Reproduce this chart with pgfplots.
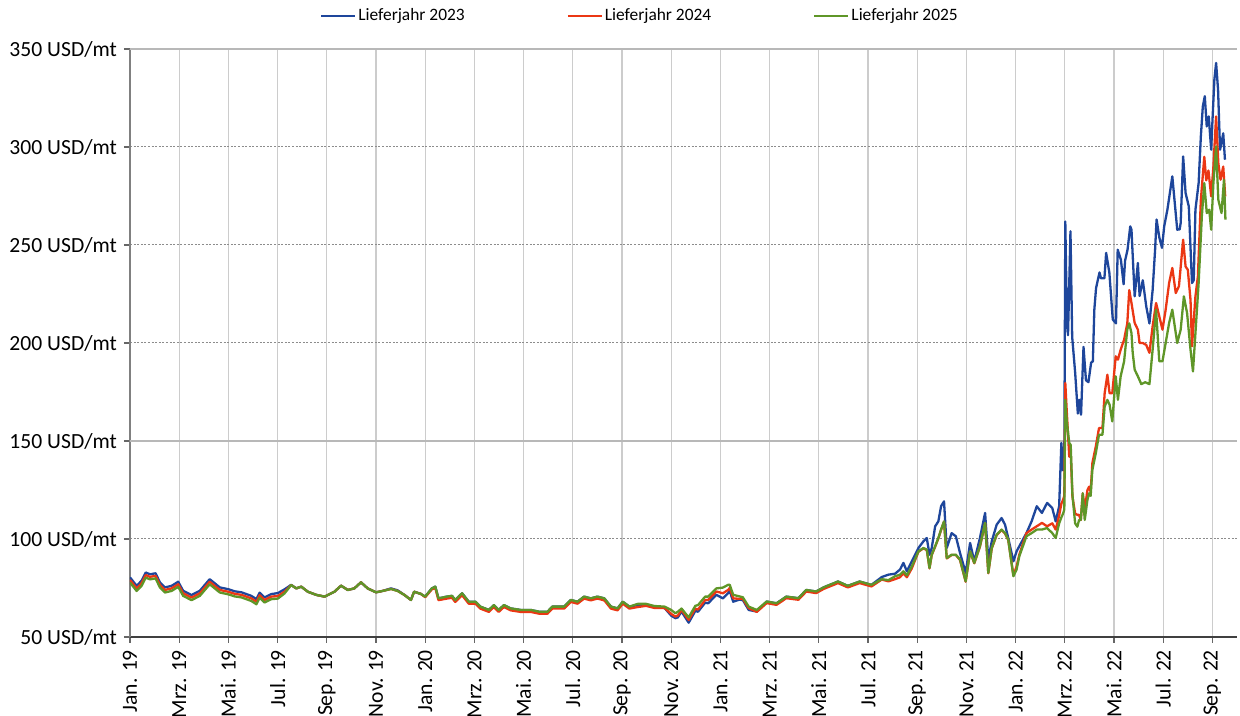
\documentclass[border=0pt]{standalone}
\usepackage{pgfplots}
\pgfplotsset{compat=1.18}
\usepackage{fontspec}
\setmainfont{Carlito}
\definecolor{cblue}{RGB}{30,70,155}
\definecolor{cred}{RGB}{235,55,20}
\definecolor{cgreen}{RGB}{95,150,40}
\begin{document}
\begin{tikzpicture}
\begin{axis}[
  scale only axis, width=553.5pt, height=294pt,
  xmin=0, xmax=45, ymin=50, ymax=350,
  axis lines=left, axis line style={-},
  x axis line style={black!75, line width=0.8pt},
  y axis line style={black!50, line width=1pt},
  xtick={0,2,...,44},
  xticklabels={Jan. 19,Mrz. 19,Mai. 19,Jul. 19,Sep. 19,Nov. 19,Jan. 20,Mrz. 20,Mai. 20,Jul. 20,Sep. 20,Nov. 20,Jan. 21,Mrz. 21,Mai. 21,Jul. 21,Sep. 21,Nov. 21,Jan. 22,Mrz. 22,Mai. 22,Jul. 22,Sep. 22},
  x tick label style={rotate=90, anchor=east, font=\fontsize{10.8}{12}\selectfont},
  ytick={50,100,...,350},
  yticklabels={50 USD/mt,100 USD/mt,150 USD/mt,200 USD/mt,250 USD/mt,300 USD/mt,350 USD/mt},
  y tick label style={font=\fontsize{10.8}{12}\selectfont},
  tick align=outside, major tick length=3pt,
  tick style={black!60, line width=0.6pt},
  xmajorgrids, ymajorgrids,
  x grid style={black!20, line width=0.6pt},
  y grid style={black!45, line width=0.5pt, dash pattern=on 1pt off 0.8pt},
  extra y ticks={150,350}, extra y tick labels={},
  extra y tick style={y grid style={black!28, solid, line width=0.6pt}, major tick length=0pt},
  legend columns=3,
  legend style={draw=none, fill=none, at={(0.4607,1)}, anchor=center, yshift=16.5pt,
    font=\fontsize{8.7}{10}\selectfont,
    /tikz/every even column/.append style={column sep=50pt},
    nodes={inner sep=1pt}},
  legend image code/.code={\draw[#1, line width=1.1pt] (0pt,0pt) -- (17pt,0pt);},
  every axis plot/.append style={line width=1.15pt, line join=round},
]
\addplot[cblue] coordinates {(0,80.4)(0.27,76.1)(0.47,78.7)(0.64,82.9)(0.81,82.0)(1.04,82.5)(1.22,77.8)(1.42,75.3)(1.69,76.1)(1.96,78.2)(2.16,73.6)(2.5,71.4)(2.84,73.6)(3.24,79.5)(3.65,75.3)(3.99,74.4)(4.26,73.3)(4.53,72.8)(4.93,71.0)(5.14,69.3)(5.27,72.6)(5.47,70.2)(5.74,71.9)(6.01,72.4)(6.28,74.3)(6.55,76.6)(6.76,74.8)(6.96,75.7)(7.23,73.1)(7.57,71.5)(7.91,70.6)(8.31,73.1)(8.58,76.2)(8.85,74.0)(9.12,74.8)(9.39,77.9)(9.66,74.8)(10.0,72.8)(10.27,73.5)(10.61,74.8)(10.88,73.8)(11.15,71.5)(11.42,68.9)(11.55,73.1)(11.82,72.0)(12.0,70.6)(12.27,74.8)(12.41,75.7)(12.54,69.7)(12.88,70.6)(13.09,71.0)(13.22,68.9)(13.5,72.3)(13.77,68.0)(14.04,68.0)(14.24,65.5)(14.59,63.8)(14.79,66.3)(14.99,63.8)(15.2,66.3)(15.47,64.6)(15.88,63.8)(16.29,63.8)(16.63,62.9)(16.97,62.9)(17.17,65.5)(17.65,65.5)(17.92,68.9)(18.19,68.0)(18.46,70.6)(18.73,69.7)(19.0,70.6)(19.28,69.7)(19.55,65.5)(19.82,64.6)(20.03,68.0)(20.3,65.5)(20.64,66.3)(20.98,66.3)(21.32,65.3)(21.73,64.8)(22.0,60.9)(22.17,59.6)(22.27,60.0)(22.42,63.0)(22.71,57.3)(22.98,63.3)(23.09,62.9)(23.38,67.5)(23.5,67.2)(23.84,71.5)(24.1,69.7)(24.31,72.3)(24.38,73.5)(24.52,68.0)(24.75,69.0)(24.91,68.9)(25.15,63.8)(25.48,63.0)(25.88,68.1)(26.28,67.2)(26.68,70.6)(27.17,69.8)(27.49,74.0)(27.89,73.2)(28.21,75.4)(28.78,78.3)(29.18,76.1)(29.66,78.3)(30.14,76.6)(30.56,80.6)(30.83,81.8)(31.1,82.3)(31.3,84.4)(31.44,87.8)(31.58,83.5)(31.78,88.6)(32.05,95.4)(32.25,98.8)(32.39,100.5)(32.5,92.0)(32.59,95.4)(32.73,106.5)(32.86,109.0)(32.97,116.7)(33.09,119.2)(33.2,95.4)(33.4,103.0)(33.57,101.4)(33.74,92.9)(33.97,82.7)(34.15,98.0)(34.32,88.6)(34.55,100.5)(34.76,113.3)(34.89,89.5)(35.03,98.8)(35.23,107.3)(35.43,110.7)(35.57,107.3)(35.7,100.5)(35.91,88.6)(36.04,93.7)(36.15,96.3)(36.44,103.0)(36.65,109.0)(36.86,116.7)(37.07,113.3)(37.28,118.4)(37.49,115.8)(37.63,109.0)(37.77,116.7)(37.86,149.0)(37.93,135.0)(37.98,140.0)(38.02,262.0)(38.08,215.0)(38.13,204.0)(38.18,230.0)(38.23,257.0)(38.3,203.0)(38.42,185.0)(38.53,164.0)(38.59,171.0)(38.66,163.4)(38.76,198.0)(38.86,181.0)(38.96,180.0)(39.07,190.0)(39.14,190.6)(39.2,217.0)(39.27,228.0)(39.41,236.0)(39.47,233.0)(39.61,233.0)(39.68,246.0)(39.81,236.0)(39.95,212.0)(40.08,210.0)(40.15,247.6)(40.28,242.5)(40.39,230.0)(40.45,242.0)(40.55,247.6)(40.66,259.5)(40.71,257.8)(40.84,223.8)(40.97,240.8)(41.04,224.0)(41.17,232.0)(41.31,218.7)(41.44,210.0)(41.57,227.0)(41.67,247.6)(41.73,263.0)(41.84,254.0)(41.95,248.5)(42.04,259.5)(42.17,268.0)(42.37,285.0)(42.57,257.8)(42.67,258.0)(42.71,261.2)(42.81,295.2)(42.91,276.5)(43.04,269.7)(43.17,230.6)(43.24,232.0)(43.31,268.0)(43.44,281.6)(43.53,305.4)(43.61,320.7)(43.69,325.9)(43.77,310.5)(43.85,315.6)(43.95,298.6)(44.01,315.6)(44.08,334.4)(44.15,342.9)(44.23,329.2)(44.31,298.6)(44.37,302.0)(44.44,307.0)(44.51,293.5)};
\addlegendentry{Lieferjahr 2023}
\addplot[cred] coordinates {(0,79.1)(0.27,74.8)(0.47,77.4)(0.64,81.6)(0.81,80.7)(1.04,81.2)(1.22,76.5)(1.42,74.0)(1.69,74.8)(1.96,76.9)(2.16,72.3)(2.5,70.1)(2.84,72.3)(3.24,78.2)(3.65,74.0)(3.99,73.1)(4.26,72.0)(4.53,71.5)(4.93,69.7)(5.14,68.0)(5.27,71.3)(5.47,68.9)(5.74,70.6)(6.01,70.9)(6.28,73.1)(6.55,76.5)(6.76,74.8)(6.96,75.7)(7.23,73.1)(7.57,71.5)(7.91,70.6)(8.31,73.1)(8.58,76.2)(8.85,74.0)(9.12,74.8)(9.39,77.9)(9.66,74.8)(10.0,72.8)(10.27,73.5)(10.61,74.5)(10.88,73.5)(11.15,71.5)(11.42,68.9)(11.55,73.1)(11.82,72.0)(12.0,70.3)(12.27,74.3)(12.41,75.0)(12.54,68.8)(12.88,69.6)(13.09,70.0)(13.22,67.9)(13.5,71.3)(13.77,67.0)(14.04,67.0)(14.24,64.5)(14.59,62.8)(14.79,65.3)(14.99,62.8)(15.2,65.3)(15.47,63.6)(15.88,62.8)(16.29,62.8)(16.63,61.9)(16.97,61.9)(17.17,64.5)(17.65,64.5)(17.92,67.9)(18.19,67.0)(18.46,69.6)(18.73,68.7)(19.0,69.6)(19.28,68.7)(19.55,64.5)(19.82,63.6)(20.03,67.0)(20.3,64.5)(20.64,65.3)(20.98,65.9)(21.32,64.8)(21.73,64.8)(22.0,61.8)(22.17,60.4)(22.27,61.0)(22.42,63.8)(22.71,58.7)(22.98,64.5)(23.09,64.0)(23.38,68.9)(23.5,68.9)(23.84,73.2)(24.1,72.3)(24.31,74.0)(24.38,75.0)(24.52,69.7)(24.75,69.5)(24.91,69.5)(25.15,64.7)(25.48,62.8)(25.88,67.3)(26.28,66.4)(26.68,69.8)(27.17,69.0)(27.49,73.2)(27.89,72.4)(28.21,74.6)(28.78,77.5)(29.18,75.3)(29.66,77.5)(30.14,75.8)(30.56,79.3)(30.83,78.4)(31.1,79.5)(31.3,80.5)(31.44,82.5)(31.58,80.5)(31.78,85.0)(32.05,93.5)(32.25,95.2)(32.39,94.4)(32.5,85.0)(32.59,91.8)(32.73,96.1)(32.86,100.3)(32.97,104.6)(33.09,108.8)(33.2,90.1)(33.4,91.8)(33.57,91.8)(33.74,89.3)(33.97,78.2)(34.15,93.5)(34.32,87.6)(34.55,96.1)(34.76,108.0)(34.89,82.5)(35.03,95.2)(35.23,102.0)(35.43,104.6)(35.57,102.8)(35.7,99.5)(35.91,81.5)(36.04,86.0)(36.15,92.0)(36.44,103.0)(36.65,104.8)(36.86,106.5)(37.07,108.2)(37.28,106.5)(37.49,108.0)(37.63,104.8)(37.77,112.0)(37.86,118.0)(37.93,120.0)(37.98,122.0)(38.02,179.6)(38.08,165.0)(38.18,142.0)(38.24,143.8)(38.31,121.6)(38.42,113.0)(38.51,112.3)(38.58,112.3)(38.65,109.7)(38.73,123.3)(38.81,114.8)(38.92,125.0)(38.99,126.7)(39.05,124.0)(39.12,138.7)(39.26,147.2)(39.39,156.6)(39.53,156.6)(39.62,174.4)(39.73,183.8)(39.82,174.4)(39.93,174.4)(40.07,193.2)(40.16,191.5)(40.27,196.6)(40.41,201.7)(40.54,210.0)(40.62,227.0)(40.71,220.4)(40.84,210.2)(40.97,206.8)(41.04,200.0)(41.17,200.0)(41.31,199.0)(41.44,195.0)(41.57,208.5)(41.71,220.4)(41.84,213.6)(41.97,206.8)(42.1,217.0)(42.24,230.6)(42.37,238.3)(42.51,225.5)(42.64,229.0)(42.81,252.7)(42.91,239.0)(43.0,237.4)(43.11,222.0)(43.17,198.3)(43.31,223.8)(43.41,234.0)(43.53,273.0)(43.67,295.0)(43.75,283.0)(43.84,288.0)(43.95,274.8)(44.04,290.0)(44.15,315.6)(44.24,291.8)(44.33,283.3)(44.44,290.0)(44.52,274.8)};
\addlegendentry{Lieferjahr 2024}
\addplot[cgreen] coordinates {(0,77.8)(0.27,73.5)(0.47,76.1)(0.64,80.3)(0.81,79.4)(1.04,79.9)(1.22,75.2)(1.42,72.7)(1.69,73.5)(1.96,75.6)(2.16,71.0)(2.5,68.8)(2.84,71.0)(3.24,76.9)(3.65,72.7)(3.99,71.8)(4.26,70.7)(4.53,70.2)(4.93,68.4)(5.14,66.7)(5.27,70.0)(5.47,67.6)(5.74,69.3)(6.01,69.6)(6.28,72.2)(6.55,76.5)(6.76,74.8)(6.96,75.7)(7.23,73.1)(7.57,71.5)(7.91,70.6)(8.31,73.1)(8.58,76.2)(8.85,74.0)(9.12,74.8)(9.39,77.9)(9.66,74.8)(10.0,72.8)(10.27,73.5)(10.61,74.5)(10.88,73.5)(11.15,71.5)(11.42,68.9)(11.55,73.1)(11.82,72.0)(12.0,70.6)(12.27,74.8)(12.41,75.7)(12.54,69.7)(12.88,70.6)(13.09,71.0)(13.22,68.9)(13.5,72.3)(13.77,68.0)(14.04,68.0)(14.24,65.5)(14.59,63.8)(14.79,66.3)(14.99,63.8)(15.2,66.3)(15.47,64.6)(15.88,63.8)(16.29,63.8)(16.63,62.9)(16.97,62.9)(17.17,65.5)(17.65,65.5)(17.92,68.9)(18.19,68.0)(18.46,70.6)(18.73,69.7)(19.0,70.6)(19.28,69.7)(19.55,65.5)(19.82,64.6)(20.03,68.0)(20.3,65.5)(20.64,66.9)(20.98,66.9)(21.32,65.8)(21.73,65.5)(22.0,63.8)(22.17,62.1)(22.27,62.9)(22.42,64.5)(22.71,60.0)(22.98,65.9)(23.09,66.3)(23.38,70.6)(23.5,70.6)(23.84,74.8)(24.1,75.2)(24.31,76.6)(24.38,76.6)(24.52,71.5)(24.75,70.8)(24.91,70.3)(25.15,65.5)(25.48,63.8)(25.88,68.1)(26.28,67.2)(26.68,70.6)(27.17,69.8)(27.49,74.0)(27.89,73.2)(28.21,75.4)(28.78,78.3)(29.18,76.1)(29.66,78.3)(30.14,76.6)(30.56,79.5)(30.83,79.0)(31.1,81.0)(31.3,81.8)(31.44,83.5)(31.58,81.5)(31.78,86.0)(32.05,93.7)(32.25,95.4)(32.39,94.6)(32.5,85.2)(32.59,92.0)(32.73,96.3)(32.86,100.5)(32.97,104.8)(33.09,109.0)(33.2,90.3)(33.4,92.0)(33.57,92.0)(33.74,89.5)(33.97,78.4)(34.15,93.7)(34.32,87.8)(34.55,96.3)(34.76,108.2)(34.89,82.7)(35.03,95.4)(35.23,102.2)(35.43,104.8)(35.57,103.0)(35.7,99.7)(35.91,81.0)(36.04,84.4)(36.15,91.2)(36.44,101.4)(36.65,103.0)(36.86,104.8)(37.07,104.8)(37.28,105.6)(37.49,103.0)(37.63,100.5)(37.77,108.0)(37.86,111.0)(37.93,113.0)(37.98,115.0)(38.02,171.0)(38.08,160.0)(38.18,149.0)(38.24,148.0)(38.31,122.5)(38.42,108.0)(38.51,106.3)(38.58,109.7)(38.65,109.7)(38.73,123.3)(38.81,109.7)(38.92,120.0)(38.99,123.3)(39.05,122.0)(39.12,135.3)(39.26,143.8)(39.39,153.2)(39.53,153.2)(39.62,167.6)(39.73,171.0)(39.82,168.5)(39.93,160.0)(40.07,183.0)(40.16,171.0)(40.27,183.0)(40.41,190.6)(40.54,207.0)(40.62,210.0)(40.71,205.0)(40.76,195.0)(40.84,186.4)(40.97,183.0)(41.11,179.0)(41.27,180.0)(41.44,179.0)(41.57,196.6)(41.71,217.0)(41.84,190.7)(41.97,190.7)(42.1,200.0)(42.24,210.2)(42.37,217.0)(42.57,200.0)(42.71,206.8)(42.84,223.8)(42.97,215.3)(43.11,196.6)(43.21,185.5)(43.31,205.0)(43.44,230.6)(43.57,264.6)(43.67,281.6)(43.77,266.3)(43.87,268.0)(43.95,257.8)(44.04,281.6)(44.15,300.3)(44.24,273.1)(44.37,266.3)(44.47,283.3)(44.53,262.9)};
\addlegendentry{Lieferjahr 2025}
\end{axis}
\pgfresetboundingbox
\path (-65pt,-39.5pt) rectangle (555pt,318.5pt);
\end{tikzpicture}
\end{document}
